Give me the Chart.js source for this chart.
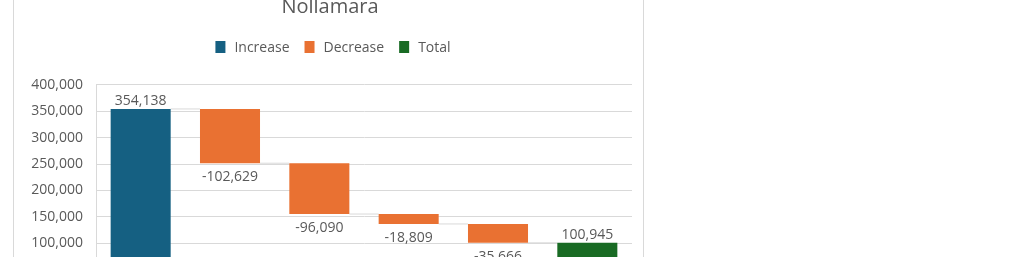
<!DOCTYPE html>
<html><head><meta charset="utf-8">
<script src="https://cdn.jsdelivr.net/npm/chart.js@4"></script>
<style>
html,body{margin:0;padding:0;background:#fff;overflow:hidden;width:1020px;height:257px}
#wrap{position:absolute;left:13px;top:-21px;width:629px;height:360px;border:1px solid #d9d9d9;background:#fff}
canvas{display:block}
</style></head><body>
<div id="wrap"><canvas id="c" width="629" height="360"></canvas></div>
<script>
const chartTitle = "Nollamara";
const categories = ["Start", "Step 1", "Step 2", "Step 3", "Step 4", "Total"];
const increaseValues = [354138, null, null, null, null, null];
const decreaseValues = [null, -102629, -96090, -18809, -35666, null];
const totalValues = [null, null, null, null, null, 100945];
const yTickValues = [0, 50000, 100000, 150000, 200000, 250000, 300000, 350000, 400000];
const seriesNames = ["Increase", "Decrease", "Total"];
const seriesColors = ["#156082", "#E97132", "#196B24"];

const fmt = v => (v < 0 ? "-" : "") + Math.abs(v).toLocaleString("en-US");

// running levels for the waterfall
const levels = [];
let run = 0;
for (let i = 0; i < categories.length; i++) {
  const inc = increaseValues[i], dec = decreaseValues[i], tot = totalValues[i];
  let start = run;
  if (inc != null) run += inc;
  if (dec != null) run += dec;
  if (tot != null) { start = 0; run = tot; }
  levels.push([start, run]);
}
const incData = increaseValues.map((v, i) => v == null ? null : [levels[i][0], levels[i][1]]);
const decData = decreaseValues.map((v, i) => v == null ? null : [levels[i][1], levels[i][0]]);
const totData = totalValues.map(v => v == null ? null : [0, v]);
const rawValues = [increaseValues, decreaseValues, totalValues];

const FONT = "'Open Sans', 'Noto Sans', sans-serif";
const TEXT = "#595959";

const titleLegendPlugin = {
  id: "titleLegend",
  afterDraw(chart) {
    const ctx = chart.ctx;
    ctx.save();
    ctx.fillStyle = TEXT;
    ctx.font = "20px " + FONT;
    ctx.textAlign = "center";
    ctx.textBaseline = "alphabetic";
    ctx.fillText(chartTitle, 316, 33);
    ctx.font = "14px " + FONT;
    const box = 10, gap = 9, spacing = 15;
    const widths = chart.data.datasets.map(d => ctx.measureText(d.label).width);
    let total = 0;
    widths.forEach((w, i) => { total += box + gap + w + (i ? spacing : 0); });
    let x = 319 - total / 2;
    ctx.textAlign = "left";
    ctx.textBaseline = "middle";
    chart.data.datasets.forEach((d, i) => {
      ctx.fillStyle = d.backgroundColor;
      ctx.fillRect(x, 61, box, 12);
      ctx.fillStyle = TEXT;
      ctx.fillText(d.label, x + box + gap, 68);
      x += box + gap + widths[i] + spacing;
    });
    ctx.restore();
  }
};

const connectorPlugin = {
  id: "connectors",
  beforeDatasetsDraw(chart) {
    const ctx = chart.ctx;
    const y = chart.scales.y;
    const els = categories.map((c, i) => {
      for (let d = 0; d < 3; d++) {
        const el = chart.getDatasetMeta(d).data[i];
        if (rawValues[d][i] != null) return el;
      }
      return null;
    });
    ctx.save();
    ctx.strokeStyle = "#d9d9d9";
    ctx.lineWidth = 1;
    for (let i = 0; i < categories.length - 1; i++) {
      const a = els[i], b = els[i + 1];
      if (!a || !b) continue;
      const py = y.getPixelForValue(levels[i][1]);
      ctx.beginPath();
      ctx.moveTo(a.x + a.width / 2, py);
      ctx.lineTo(b.x - b.width / 2, py);
      ctx.stroke();
    }
    ctx.restore();
  }
};

const labelPlugin = {
  id: "barLabels",
  afterDatasetsDraw(chart) {
    const ctx = chart.ctx;
    ctx.save();
    ctx.font = "14px " + FONT;
    ctx.fillStyle = TEXT;
    ctx.textAlign = "center";
    ctx.textBaseline = "alphabetic";
    for (let d = 0; d < 3; d++) {
      chart.getDatasetMeta(d).data.forEach((el, i) => {
        const v = rawValues[d][i];
        if (v == null) return;
        const top = Math.min(el.y, el.base), bottom = Math.max(el.y, el.base);
        if (v < 0) ctx.fillText(fmt(v), el.x, bottom + 18);
        else ctx.fillText(fmt(v), el.x, top - 4);
      });
    }
    ctx.restore();
  }
};

new Chart(document.getElementById("c"), {
  type: "bar",
  data: {
    labels: categories,
    datasets: [
      { label: seriesNames[0], data: incData, backgroundColor: seriesColors[0] },
      { label: seriesNames[1], data: decData, backgroundColor: seriesColors[1] },
      { label: seriesNames[2], data: totData, backgroundColor: seriesColors[2] }
    ]
  },
  options: {
    responsive: false,
    animation: false,
    devicePixelRatio: 1,
    categoryPercentage: 1,
    barPercentage: 0.672,
    layout: { padding: { top: 104.7, right: 11, bottom: 13.8, left: 0 } },
    plugins: { legend: { display: false }, title: { display: false }, tooltip: { enabled: false } },
    scales: {
      x: {
        stacked: true,
        grid: { display: false },
        border: { display: false },
        ticks: { display: false },
        afterFit(s) { s.height = 30; }
      },
      y: {
        min: 0, max: 400000,
        afterBuildTicks(s) { s.ticks = yTickValues.map(v => ({ value: v })); },
        afterFit(s) { s.width = 82; },
        grid: { color: "#d9d9d9", lineWidth: 1, drawTicks: false },
        border: { display: true, color: "#d9d9d9", width: 1 },
        ticks: { padding: 13, color: TEXT, font: { family: FONT, size: 14 }, callback: v => fmt(v) }
      }
    }
  },
  plugins: [connectorPlugin, labelPlugin, titleLegendPlugin]
});
</script>
</body></html>
